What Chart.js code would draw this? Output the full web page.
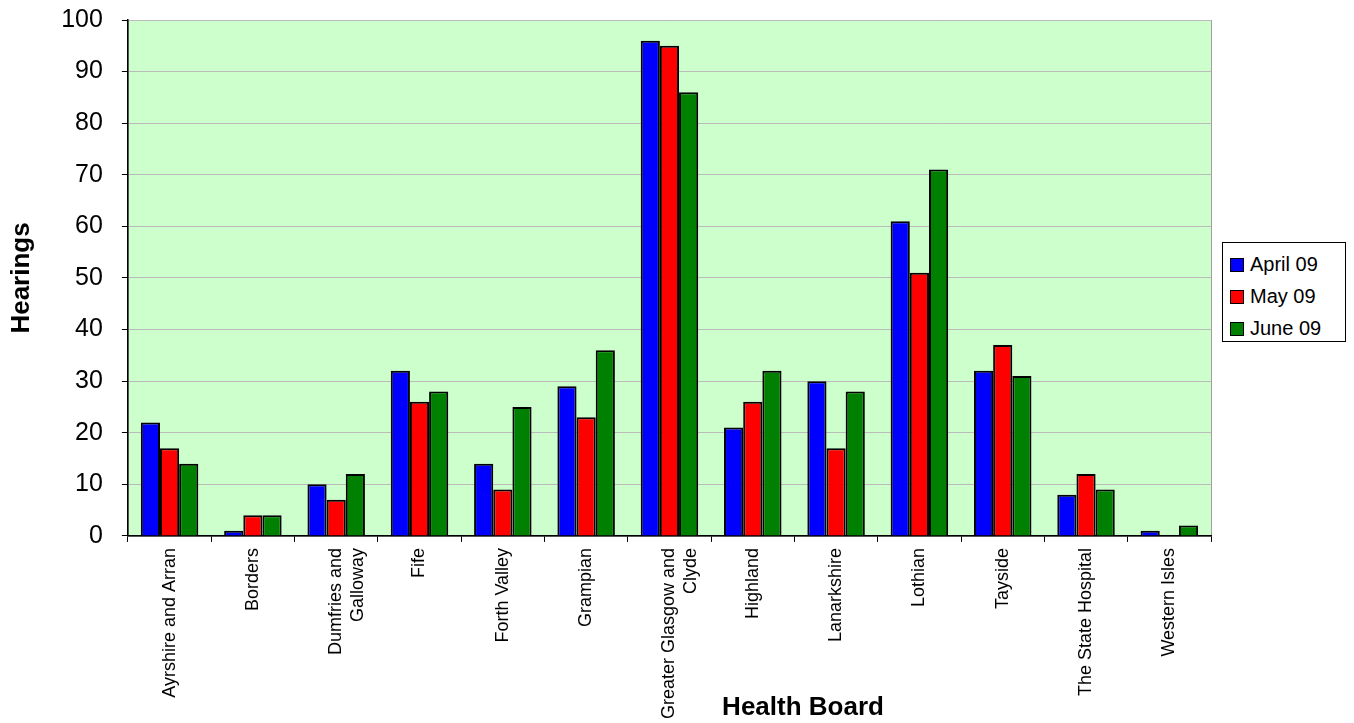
<!DOCTYPE html>
<html>
<head>
<meta charset="utf-8">
<script src="https://cdn.jsdelivr.net/npm/chart.js@4.4.0/dist/chart.umd.min.js"></script>
<style>
  body { margin: 0; background: #fff; }
  #wrap { position: relative; width: 1354px; height: 723px; overflow: hidden; }
  #myChart { position: absolute; left: 0; top: -14px; }
  #leyenda {
    position: absolute; left: 1222px; top: 242px; width: 122px; height: 98px;
    border: 1px solid #000; background: #fff;
    font-family: 'Liberation Sans', Arial, sans-serif; font-size: 20px; color: #000;
  }
  #leyenda div { position: absolute; left: 7px; height: 22px; line-height: 22px; white-space: nowrap; }
  #leyenda span { display: inline-block; width: 12px; height: 12px; border: 1px solid #000; margin-right: 6px; vertical-align: -1px; }
</style>
</head>
<body>
<div id="wrap">
  <canvas id="myChart" width="1354" height="743"></canvas>
  <div id="leyenda"></div>
</div>
<script>
const ctx = document.getElementById('myChart').getContext('2d');

let juntas = [
    "Ayrshire and Arran", "Borders", ["Dumfries and", "Galloway"], "Fife", "Forth Valley",
    "Grampian", ["Greater Glasgow and", "Clyde"], "Highland", "Lanarkshire", "Lothian",
    "Tayside", "The State Hospital", "Western Isles"
]

let series = ["April 09", "May 09", "June 09"]
let colores = ["#0000FF", "#FF0000", "#008000"]

let abril = [22, 1, 10, 32, 14, 29, 96, 21, 30, 61, 32, 8, 1]
let mayo = [17, 4, 7, 26, 9, 23, 95, 26, 17, 51, 37, 12, 0]
let junio = [14, 4, 12, 28, 25, 36, 86, 32, 28, 71, 31, 9, 2]

let valoresY = [0, 10, 20, 30, 40, 50, 60, 70, 80, 90, 100]

const fuente = "'Liberation Sans', Arial, sans-serif"

// fondo verde del area del grafico + titulo del eje X
const fondoPlugin = {
    id: 'fondo',
    beforeDraw(chart) {
        const a = chart.chartArea
        const c = chart.ctx
        c.save()
        c.fillStyle = '#CCFFCC'
        c.fillRect(a.left, a.top, a.right - a.left, a.bottom - a.top)
        c.strokeStyle = '#A0A0A0'
        c.lineWidth = 1
        c.strokeRect(a.left + 0.5, a.top + 0.5, a.right - a.left, a.bottom - a.top)
        c.restore()
    },
    afterDraw(chart) {
        const c = chart.ctx
        c.save()
        c.fillStyle = '#000'
        c.font = 'bold 26px ' + fuente
        c.textAlign = 'center'
        c.textBaseline = 'middle'
        c.fillText('Health Board', 803, 722)
        c.restore()
    }
}

const datos = [abril, mayo, junio]

let myChart = new Chart(ctx, {
    type: 'bar',
    data: {
        labels: juntas,
        datasets: series.map((s, i) => ({
            label: s,
            data: datos[i],
            backgroundColor: colores[i],
            borderColor: '#000000',
            borderWidth: 2,
            borderSkipped: 'bottom',
            categoryPercentage: 0.69,
            barPercentage: 1.0
        }))
    },
    options: {
        responsive: false,
        animation: false,
        layout: { padding: { left: 6, right: 143, top: 0, bottom: 4 } },
        plugins: {
            legend: { display: false },
            tooltip: { enabled: false }
        },
        scales: {
            x: {
                grid: { display: true, drawOnChartArea: false, offset: true, color: '#000', tickLength: 6 },
                border: { color: '#000', width: 1.5 },
                ticks: {
                    autoSkip: false, minRotation: 90, maxRotation: 90, padding: 6,
                    color: '#000', font: { family: fuente, size: 18 }
                }
            },
            y: {
                min: 0, max: 100,
                afterBuildTicks: (axis) => { axis.ticks = valoresY.map(v => ({ value: v })) },
                grid: { color: '#BBBBBB', tickColor: '#000', tickLength: 6 },
                border: { color: '#000', width: 1.5 },
                ticks: { padding: 19, color: '#000', font: { family: fuente, size: 25 } },
                title: {
                    display: true, text: 'Hearings', color: '#000',
                    font: { family: fuente, size: 26, weight: 'bold' },
                    padding: { top: 0, bottom: 5 }
                }
            }
        }
    },
    plugins: [fondoPlugin]
});

// leyenda a mano
let leyenda = document.getElementById('leyenda')
series.forEach((s, i) => {
    let fila = document.createElement('div')
    fila.style.top = (10 + i * 32) + 'px'
    fila.innerHTML = '<span style="background:' + colores[i] + '"></span>' + s
    leyenda.appendChild(fila)
})
</script>
</body>
</html>
